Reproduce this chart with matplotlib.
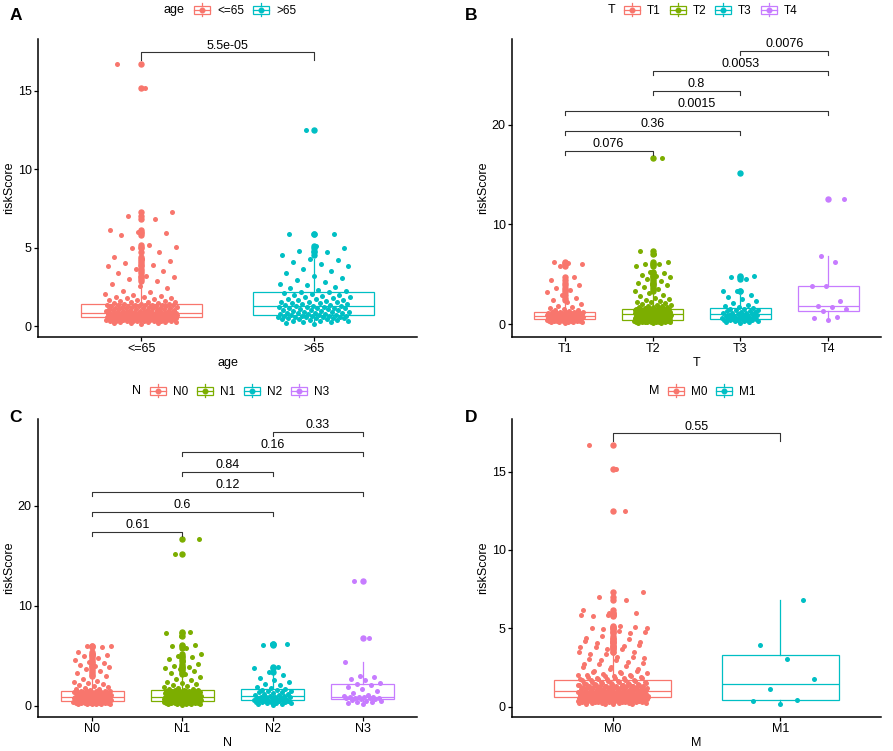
import numpy as np
import matplotlib.pyplot as plt
from matplotlib.legend_handler import HandlerBase
from matplotlib.lines import Line2D
from matplotlib.patches import Rectangle

plt.rcParams['font.family'] = ['Liberation Sans', 'DejaVu Sans']

RED, GREEN, CYAN, PURPLE = '#F8766D', '#7CAE00', '#00BFC4', '#C77CFF'

# riskScore values read off the jittered points (approximate)
age_le65 = [0.16, 0.19, 0.21, 0.22, 0.24, 0.25, 0.26, 0.28, 0.29, 0.3, 0.31, 0.31, 0.32, 0.33, 0.34, 0.35,
            0.35, 0.36, 0.37, 0.38, 0.38, 0.39, 0.4, 0.41, 0.41, 0.42, 0.43, 0.43, 0.44, 0.45, 0.45, 0.46,
            0.47, 0.47, 0.48, 0.49, 0.49, 0.5, 0.5, 0.51, 0.51, 0.52, 0.52, 0.53, 0.53, 0.54, 0.54, 0.55,
            0.56, 0.56, 0.57, 0.58, 0.58, 0.59, 0.6, 0.6, 0.61, 0.61, 0.62, 0.63, 0.63, 0.64, 0.64, 0.65,
            0.66, 0.66, 0.67, 0.67, 0.68, 0.69, 0.69, 0.7, 0.7, 0.71, 0.71, 0.72, 0.73, 0.73, 0.74, 0.74,
            0.75, 0.75, 0.76, 0.76, 0.77, 0.77, 0.78, 0.78, 0.79, 0.79, 0.8, 0.8, 0.8, 0.81, 0.81, 0.82,
            0.83, 0.84, 0.85, 0.86, 0.87, 0.88, 0.89, 0.9, 0.91, 0.92, 0.93, 0.95, 0.96, 0.97, 0.98, 1.0,
            1.01, 1.02, 1.04, 1.05, 1.06, 1.08, 1.09, 1.1, 1.12, 1.13, 1.14, 1.16, 1.17, 1.18, 1.2, 1.21,
            1.22, 1.24, 1.25, 1.26, 1.27, 1.29, 1.3, 1.31, 1.32, 1.33, 1.34, 1.35, 1.36, 1.37, 1.38, 1.4,
            1.42, 1.45, 1.47, 1.5, 1.52, 1.55, 1.58, 1.61, 1.65, 1.68, 1.72, 1.76, 1.8, 1.84, 1.88, 1.93,
            1.98, 2.05, 2.15, 2.25, 2.4, 2.55, 2.7, 2.85, 3.0, 3.1, 3.2, 3.35, 3.5, 3.65, 3.8, 3.9,
            4.05, 4.15, 4.3, 4.4, 4.7, 4.95, 5.05, 5.15, 5.8, 5.95, 6.0, 6.15, 6.8, 7.0, 7.3, 15.2, 16.7]
age_gt65 = [0.15, 0.2, 0.24, 0.27, 0.3, 0.33, 0.35, 0.38, 0.4, 0.42, 0.44, 0.46, 0.48, 0.5, 0.51, 0.53,
            0.55, 0.56, 0.58, 0.59, 0.6, 0.62, 0.63, 0.64, 0.66, 0.67, 0.68,
            0.7, 0.72, 0.74, 0.76, 0.78, 0.8, 0.82, 0.84, 0.86, 0.88, 0.9, 0.92, 0.95, 0.97, 1.0, 1.02,
            1.05, 1.07, 1.1, 1.12, 1.14, 1.16, 1.18, 1.2, 1.22, 1.24, 1.25,
            1.28, 1.3, 1.33, 1.36, 1.39, 1.42, 1.45, 1.48, 1.5, 1.53, 1.56, 1.6, 1.63, 1.67, 1.7, 1.74,
            1.78, 1.82, 1.86, 1.9, 1.95, 2.0, 2.05, 2.1, 2.15, 2.2, 2.23,
            2.3, 2.4, 2.5, 2.6, 2.7, 2.8, 2.95, 3.05, 3.2, 3.35, 3.5, 3.65, 3.8, 3.95, 4.1, 4.2, 4.3,
            4.5, 4.75, 4.8, 5.0, 5.1, 5.85, 5.85, 12.5]

t1 = [0.14, 0.17, 0.19, 0.21, 0.23, 0.24, 0.26, 0.27, 0.29, 0.3, 0.31, 0.33, 0.34, 0.35, 0.36, 0.37,
      0.38, 0.39, 0.4, 0.41, 0.42, 0.43, 0.44, 0.45,
      0.47, 0.49, 0.51, 0.53, 0.55, 0.57, 0.59, 0.6, 0.62, 0.64, 0.65, 0.67, 0.68, 0.7, 0.72, 0.73,
      0.75, 0.76, 0.78, 0.79, 0.8, 0.81, 0.83, 0.84,
      0.86, 0.87, 0.89, 0.9, 0.92, 0.93, 0.95, 0.96, 0.98, 0.99, 1.01, 1.02, 1.04, 1.05, 1.07, 1.08,
      1.1, 1.11, 1.13, 1.14, 1.16, 1.17, 1.19, 1.2,
      1.25, 1.3, 1.36, 1.42, 1.5, 1.6, 1.72, 1.85, 2.0, 2.2, 2.4, 2.6, 2.9, 3.2, 3.4, 3.6,
      3.9, 4.1, 4.4, 4.7, 5.8, 6.0, 6.1, 6.2]
t2 = [0.12, 0.14, 0.15, 0.17, 0.18, 0.19, 0.2, 0.21, 0.22, 0.23, 0.24, 0.25, 0.26, 0.27, 0.27, 0.28,
      0.29, 0.3, 0.3, 0.31, 0.32, 0.33, 0.33, 0.34, 0.35, 0.35, 0.36, 0.37, 0.37, 0.38, 0.38, 0.39,
      0.4, 0.4, 0.41, 0.41, 0.42, 0.42, 0.43, 0.43,
      0.45, 0.47, 0.48, 0.5, 0.52, 0.53, 0.55, 0.57, 0.58, 0.6, 0.61, 0.63, 0.64, 0.66, 0.67, 0.69,
      0.7, 0.72, 0.73, 0.75, 0.76, 0.78, 0.79, 0.81, 0.82, 0.84, 0.85, 0.87, 0.88, 0.9, 0.91, 0.93,
      0.94, 0.96, 0.97, 0.99, 1.0, 1.01, 1.03, 1.04,
      1.05, 1.06, 1.08, 1.09, 1.1, 1.12, 1.13, 1.14, 1.16, 1.17, 1.18, 1.2, 1.21, 1.22, 1.24, 1.25,
      1.26, 1.28, 1.29, 1.3, 1.32, 1.33, 1.34, 1.36, 1.37, 1.38, 1.4, 1.41, 1.42, 1.44, 1.45, 1.46,
      1.48, 1.49, 1.5, 1.51, 1.52, 1.53, 1.53, 1.54,
      1.58, 1.62, 1.66, 1.7, 1.75, 1.8, 1.85, 1.9, 1.96, 2.02, 2.1, 2.18, 2.26, 2.35, 2.45, 2.55,
      2.65, 2.8, 2.95, 3.1, 3.3, 3.5, 3.7, 3.9, 4.0, 4.1, 4.3, 4.5, 4.7, 4.8, 4.9, 5.1,
      5.2, 5.8, 6.0, 6.0, 6.2, 7.0, 7.3, 16.7]
t3 = [0.12, 0.18, 0.22, 0.26, 0.3, 0.33, 0.36, 0.38, 0.4, 0.42, 0.44, 0.46, 0.48, 0.5,
      0.53, 0.56, 0.59, 0.62, 0.65, 0.68, 0.71, 0.74, 0.77, 0.8, 0.84, 0.87, 0.9, 0.94,
      0.98, 1.02, 1.06, 1.1, 1.15, 1.2, 1.24, 1.29, 1.34, 1.4, 1.45, 1.5, 1.55, 1.6,
      1.7, 1.8, 1.95, 2.1, 2.3, 2.5, 2.7, 2.9, 3.3, 3.3, 4.5, 4.7, 4.8, 15.2]
t4 = [0.45, 0.6, 0.7, 1.3, 1.5, 1.7, 1.8, 2.3, 3.8, 3.8, 6.2, 6.8, 12.5]

n0 = [0.14, 0.16, 0.18, 0.2, 0.21, 0.22, 0.24, 0.25, 0.26, 0.28, 0.29, 0.3, 0.31, 0.32, 0.33, 0.34,
      0.35, 0.36, 0.37, 0.38, 0.39, 0.4, 0.41, 0.42, 0.43, 0.44, 0.45, 0.46, 0.47, 0.48, 0.49, 0.5,
      0.51, 0.53, 0.54, 0.55, 0.57, 0.58, 0.59, 0.6, 0.62, 0.63, 0.64, 0.65, 0.67, 0.68, 0.69, 0.7,
      0.72, 0.73, 0.74, 0.75, 0.77, 0.78, 0.79, 0.8, 0.82, 0.83, 0.84, 0.85, 0.86, 0.87, 0.89, 0.9,
      0.92, 0.94, 0.96, 0.98, 1.0, 1.02, 1.04, 1.06, 1.08, 1.1, 1.12, 1.14, 1.16, 1.18, 1.2, 1.22,
      1.24, 1.26, 1.28, 1.3, 1.32, 1.34, 1.35, 1.37, 1.38, 1.4, 1.41, 1.42, 1.43, 1.45, 1.46, 1.47,
      1.52, 1.58, 1.64, 1.7, 1.78, 1.86, 1.95, 2.05, 2.15, 2.25, 2.35, 2.5, 2.7, 3.0, 3.1, 3.3,
      3.5, 3.7, 3.9, 4.0, 4.1, 4.3, 4.4, 4.6, 4.8, 5.0, 5.1, 5.2, 5.4, 5.9, 6.0, 6.0]
n1 = [0.12, 0.15, 0.17, 0.19, 0.2, 0.22, 0.23, 0.24, 0.26, 0.27, 0.28, 0.29, 0.3, 0.31, 0.32, 0.33,
      0.34, 0.35, 0.36, 0.37, 0.38, 0.39, 0.4, 0.41, 0.42, 0.43, 0.44, 0.45, 0.46, 0.47, 0.48, 0.48,
      0.49, 0.5,
      0.51, 0.52, 0.54, 0.55, 0.56, 0.57, 0.59, 0.6, 0.61, 0.62, 0.64, 0.65, 0.66, 0.67, 0.69, 0.7,
      0.71, 0.72, 0.74, 0.75, 0.76, 0.77, 0.78, 0.79, 0.8, 0.81, 0.82, 0.83, 0.84, 0.85, 0.86, 0.87,
      0.89, 0.9,
      0.92, 0.94, 0.96, 0.98, 1.0, 1.02, 1.04, 1.06, 1.08, 1.1, 1.12, 1.14, 1.16, 1.18, 1.2, 1.22,
      1.24, 1.26, 1.28, 1.3, 1.32, 1.34, 1.36, 1.38, 1.4, 1.42, 1.44, 1.46, 1.48, 1.5, 1.51, 1.52,
      1.53, 1.54,
      1.58, 1.64, 1.7, 1.78, 1.86, 1.95, 2.05, 2.15, 2.25, 2.4, 2.55, 2.7, 2.9, 3.2, 3.3, 3.5,
      3.7, 3.8, 3.9, 4.0, 4.2, 4.5, 4.7, 4.9, 5.0, 5.2, 5.8, 6.0, 6.1, 7.0, 7.3, 7.4, 15.2, 16.7]
n2 = [0.1, 0.15, 0.2, 0.24, 0.28, 0.31, 0.34, 0.37, 0.4, 0.42, 0.44, 0.46, 0.48, 0.5,
      0.53, 0.56, 0.59, 0.62, 0.65, 0.68, 0.71, 0.74, 0.77, 0.8, 0.83, 0.86, 0.88, 0.9,
      0.95, 1.0, 1.05, 1.1, 1.16, 1.22, 1.28, 1.34, 1.4, 1.45, 1.5, 1.55, 1.6, 1.64,
      1.75, 1.9, 2.05, 2.2, 2.4, 2.6, 2.8, 3.1, 3.4, 3.8, 3.9, 6.1, 6.2, 6.2]
n3 = [0.15, 0.3, 0.35, 0.4, 0.45, 0.5, 0.6, 0.65, 0.7, 0.75, 0.78, 0.8, 0.82, 0.85, 0.88, 0.9,
      0.92, 1.0, 1.1, 1.3, 1.5, 1.7, 1.9, 2.1, 2.2, 2.3, 2.6, 2.7, 2.9, 3.0, 4.4, 6.8, 12.5]

m1 = [0.2, 0.35, 0.45, 1.1, 1.75, 3.05, 3.95, 6.8]
m0 = age_le65 + age_gt65

age_groups = ['<=65', '>65']
t_groups = ['T1', 'T2', 'T3', 'T4']
n_groups = ['N0', 'N1', 'N2', 'N3']
m_groups = ['M0', 'M1']

t_pairs = [(1, 2), (1, 3), (1, 4), (2, 3), (2, 4), (3, 4)]
t_pvals = ['0.076', '0.36', '0.0015', '0.8', '0.0053', '0.0076']
n_pairs = [(1, 2), (1, 3), (1, 4), (2, 3), (2, 4), (3, 4)]
n_pvals = ['0.61', '0.6', '0.12', '0.84', '0.16', '0.33']

W, H = 893, 751


def fx(px):
    return px / W


def fy(py):
    return 1 - py / H


class BoxKey(HandlerBase):
    # little boxplot glyph like ggplot's legend key
    def create_artists(self, legend, orig_handle, xdescent, ydescent, width, height, fontsize, trans):
        c = orig_handle.get_color()
        x0, y0 = -xdescent, -ydescent
        cx, cy = x0 + width / 2, y0 + height / 2
        bh = height * 0.62
        box = Rectangle((x0, cy - bh / 2), width, bh, facecolor='white', edgecolor=c, lw=0.9, transform=trans)
        med = Line2D([x0, x0 + width], [cy, cy], color=c, lw=0.9, transform=trans)
        up = Line2D([cx, cx], [cy + bh / 2, y0 + height], color=c, lw=0.9, transform=trans)
        lo = Line2D([cx, cx], [y0, cy - bh / 2], color=c, lw=0.9, transform=trans)
        dot = Line2D([cx], [cy], marker='o', markersize=3.3, color=c, linestyle='none', transform=trans)
        return [box, med, up, lo, dot]


def jitter(n):
    k = np.arange(n)
    return ((k * 0.618034 + 0.5) % 1.0 - 0.5) * 0.42


def panel(ax, groups, values, colors, ylim, yticks, xlabel, pairs, pvals, ybr, tip):
    pos = np.arange(1, len(groups) + 1)
    bp = ax.boxplot(values, positions=pos, widths=0.7, showcaps=False, patch_artist=True,
                    zorder=2)
    for i, c in enumerate(colors):
        bp['boxes'][i].set(facecolor='white', edgecolor=c, linewidth=0.9)
        bp['medians'][i].set(color=c, linewidth=0.9)
        for w in bp['whiskers'][2 * i:2 * i + 2]:
            w.set(color=c, linewidth=0.9)
        bp['fliers'][i].set(marker='o', markerfacecolor=c, markeredgecolor=c, markersize=3.6, zorder=3)
    for i, (v, c) in enumerate(zip(values, colors)):
        ax.scatter(pos[i] + jitter(len(v)), v, s=13, color=c, linewidths=0, zorder=3)

    for (a, b), p, y in zip(pairs, pvals, ybr):
        ax.plot([a, a, b, b], [y - tip, y, y, y - tip], color='#333333', lw=0.8, zorder=4)
        ax.annotate(p, ((a + b) / 2, y), xytext=(0, 0.5), textcoords='offset points',
                    ha='center', va='bottom', fontsize=9)

    ax.set_xlim(0.4, len(groups) + 0.6)
    ax.set_ylim(*ylim)
    ax.set_xticks(pos)
    ax.set_xticklabels(groups)
    ax.set_yticks(yticks)
    ax.set_xlabel(xlabel, fontsize=9, labelpad=1.5)
    ax.set_ylabel('riskScore', fontsize=9, labelpad=2)
    for s in ['top', 'right']:
        ax.spines[s].set_visible(False)
    for s in ['left', 'bottom']:
        ax.spines[s].set_linewidth(1.1)
    ax.tick_params(labelsize=9, length=3, width=0.9, pad=1.5, colors='black')


def key(fig, title, labels, colors, x_title, x_keys, y):
    fig.text(fx(x_title), fy(y), title, ha='left', va='center', fontsize=9)
    handles = [Line2D([], [], color=c) for c in colors]
    fig.legend(handles, labels, loc='center left', bbox_to_anchor=(fx(x_keys), fy(y)),
               ncol=len(labels), frameon=False, handler_map={Line2D: BoxKey()},
               handlelength=1.35, handleheight=1.25, handletextpad=0.6, columnspacing=0.75,
               borderpad=0, borderaxespad=0, fontsize=8.5)


fig = plt.figure(figsize=(8.93, 7.51), dpi=100)

axA = fig.add_axes([fx(38), fy(337), fx(417 - 38), (337 - 39) / H])
axB = fig.add_axes([fx(512), fy(337), fx(881 - 512), (337 - 39) / H])
axC = fig.add_axes([fx(38), fy(717), fx(417 - 38), (717 - 419) / H])
axD = fig.add_axes([fx(512), fy(717), fx(881 - 512), (717 - 419) / H])

panel(axA, age_groups, [age_le65, age_gt65], [RED, CYAN], (-0.7, 18.3), [0, 5, 10, 15], 'age',
      [(1, 2)], ['5.5e-05'], [17.45], 0.49)
panel(axB, t_groups, [t1, t2, t3, t4], [RED, GREEN, CYAN, PURPLE], (-1.3, 28.6), [0, 10, 20], 'T',
      t_pairs, t_pvals, [17.4, 19.4, 21.4, 23.4, 25.4, 27.4], 0.45)
panel(axC, n_groups, [n0, n1, n2, n3], [RED, GREEN, CYAN, PURPLE], (-1.13, 28.7), [0, 10, 20], 'N',
      n_pairs, n_pvals, [17.4, 19.4, 21.4, 23.4, 25.4, 27.4], 0.45)
panel(axD, m_groups, [m0, m1], [RED, CYAN], (-0.66, 18.36), [0, 5, 10, 15], 'M',
      [(1, 2)], ['0.55'], [17.45], 0.49)

key(fig, 'age', age_groups, [RED, CYAN], 164, 194, 10)
key(fig, 'T', t_groups, [RED, GREEN, CYAN, PURPLE], 608, 624, 10)
key(fig, 'N', n_groups, [RED, GREEN, CYAN, PURPLE], 132, 150, 391)
key(fig, 'M', m_groups, [RED, CYAN], 649, 668, 391)

for lab, x, y in [('A', 16, 16), ('B', 471, 16), ('C', 16, 418), ('D', 471, 418)]:
    fig.text(fx(x), fy(y), lab, fontsize=12.5, fontweight='bold', ha='center', va='center')

fig.savefig('out.png', dpi=100)
